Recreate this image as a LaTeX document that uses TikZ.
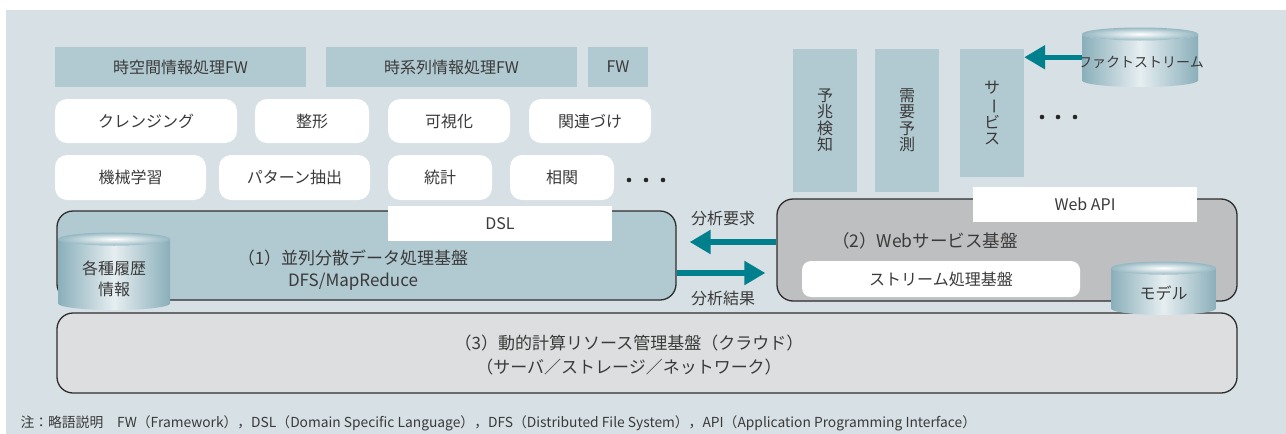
\documentclass[tikz,border=0pt]{standalone}
\usepackage{fontspec}
\setmainfont{Noto Sans CJK JP}
\usepackage{tikz}
\usetikzlibrary{arrows.meta}
\definecolor{paper}{RGB}{214,224,229}
\definecolor{fwblue}{RGB}{177,201,209}
\definecolor{layergray}{RGB}{190,191,193}
\definecolor{cloudgray}{RGB}{221,222,223}
\definecolor{flowteal}{RGB}{0,128,140}
\definecolor{ink}{RGB}{58,58,58}
\definecolor{rim}{RGB}{45,45,45}
\definecolor{drumedge}{RGB}{138,175,186}
\definecolor{drumlight}{RGB}{230,238,241}
\definecolor{drumlid}{RGB}{150,184,194}

\tikzset{
  every node/.style={font=\fontsize{16}{18}\selectfont, text=ink},
  fwbar/.style={fill=fwblue, minimum height=40pt},
  tool/.style={fill=white, rounded corners=12pt, minimum height=44pt},
  vbar/.style={fill=fwblue, minimum width=64pt, align=center,
               font=\fontsize{16}{16.5}\selectfont},
  layer/.style={draw=rim, line width=1.3pt, rounded corners=16pt},
  tag/.style={fill=white, minimum height=35pt},
  drumside/.style={left color=drumedge, right color=drumedge, middle color=drumlight},
  drumtop/.style={inner color=white, outer color=drumlid},
  drumbox/.style={inner sep=0pt},
  flow/.style={draw=flowteal, line width=5.5pt, -{Triangle[length=21pt,width=23pt]}},
}

% storage drum: name, left x, right x, lid y, bottom y
\newcommand{\drum}[5]{%
  \pgfmathsetmacro{\drumrx}{(#3-#2)/2}%
  \pgfmathsetmacro{\drumry}{6.5}%
  \pgfmathsetmacro{\drumcx}{(#2+#3)/2}%
  \pgfmathsetmacro{\drumyb}{#5-\drumry}%
  \path[drumside] (#2,#4) -- (#2,\drumyb)
     arc[start angle=180, end angle=0, x radius=\drumrx, y radius=\drumry]
     -- (#3,#4)
     arc[start angle=0, end angle=180, x radius=\drumrx, y radius=\drumry] -- cycle;
  \path[drumtop] (\drumcx,#4) ellipse[x radius=\drumrx, y radius=\drumry];
  \node[drumbox, minimum width={#3-#2}, minimum height={#5-#4+\drumry}]
     (#1) at (\drumcx,{(#4-\drumry+#5)/2}) {};
}

\begin{document}
\begin{tikzpicture}[x=1pt, y=-1pt]
  \useasboundingbox (0,0) rectangle (1286,434);
  \fill[white] (0,0) rectangle (1286,434);
  \fill[paper] (5.5,10) rectangle (1286,434);

  % frameworks
  \node[fwbar, minimum width=251pt] (spatial) at (180.5,67) {時空間情報処理FW};
  \node[fwbar, minimum width=251pt] (series) at (451.5,67) {時系列情報処理FW};
  \node[fwbar, minimum width=60pt] (fwmore) at (618,67) {FW};

  % analysis tools
  \node[tool, minimum width=182pt] (cleanse) at (146,121) {クレンジング};
  \node[tool, minimum width=114pt] (shaping) at (312,121) {整形};
  \node[tool, minimum width=122pt] (visual) at (449,121) {可視化};
  \node[tool, minimum width=122pt] (relate) at (590,121) {関連づけ};
  \node[tool, minimum width=151pt, minimum height=45pt] (learn) at (130.5,177.5) {機械学習};
  \node[tool, minimum width=151pt, minimum height=45pt] (pattern) at (294.5,177.5) {パターン抽出};
  \node[tool, minimum width=104pt, minimum height=45pt] (stats) at (440,177.5) {統計};
  \node[tool, minimum width=104pt, minimum height=45pt] (corr) at (562,177.5) {相関};
  \foreach \dx in {629,646,663}
    \fill[black!85] (\dx,180) circle[radius=2.3pt];

  % services
  \node[vbar, minimum height=143pt] (omen) at (825,120.5) {予\\兆\\検\\知};
  \node[vbar, minimum height=143pt] (demand) at (907,120.5) {需\\要\\予\\測};
  \node[vbar, minimum height=128pt] (service) at (992,113)
       {サ\\\rotatebox[origin=c]{-90}{ー}\\ビ\\ス};
  \foreach \dx in {1042,1058,1075}
    \fill[black!85] (\dx,117) circle[radius=2.3pt];

  % platforms
  \node[layer, fill=fwblue, minimum width=619pt, minimum height=89pt] (dfs) at (366.5,255.5) {};
  \node[layer, fill=layergray, minimum width=460pt, minimum height=102pt] (web) at (1007,250) {};
  \node[layer, fill=cloudgray, minimum width=1180pt, minimum height=80pt] (cloud) at (647,353) {};

  \node[tag, minimum width=224pt] (dsl) at (500,223.5) {DSL};
  \node[tag, minimum width=224pt] (webapi) at (1085,204.5) {Web API};
  \node[tag, minimum width=278pt, minimum height=36pt, rounded corners=9pt] (stream) at (941,279) {ストリーム処理基盤};

  \node[align=center, font=\fontsize{17}{22}\selectfont] (dfstitle) at (353,270)
       {（1）並列分散データ処理基盤\\DFS/MapReduce};
  \node[font=\fontsize{17.5}{20}\selectfont] (webtitle) at (925,241) {（2）Webサービス基盤};
  \node[align=center, font=\fontsize{17}{24}\selectfont] (cloudtitle) at (629,355)
       {（3）動的計算リソース管理基盤（クラウド）\\（サーバ／ストレージ／ネットワーク）};

  % storage
  \drum{history}{58}{170}{239}{310}
  \node[align=center, font=\fontsize{16}{21}\selectfont] at (114,278.5) {各種履歴\\情報};
  \drum{model}{1111}{1216}{268}{315}
  \node at (1163.5,293) {モデル};
  \drum{factdb}{1082}{1198}{34}{87}
  \node[font=\fontsize{14}{16}\selectfont] at (1141,62) {ファクトストリーム};

  % data flows
  \draw[flow] (factdb.west) -- (factdb.west -| service.east);
  \draw[flow, shorten >=13pt] (web.west |- 0,242) -- (dfs.east |- 0,242);
  \draw[flow, shorten >=11pt] (dfs.east |- 0,273) -- (web.west |- 0,273);
  \node (request) at (723,218) {分析要求};
  \node (result) at (723,298) {分析結果};

  \node[anchor=west, font=\fontsize{13.8}{15}\selectfont] (note) at (17,423)
       {注：略語説明　FW（Framework），DSL（Domain Specific Language），DFS（Distributed File System），API（Application Programming Interface）};
\end{tikzpicture}
\end{document}
